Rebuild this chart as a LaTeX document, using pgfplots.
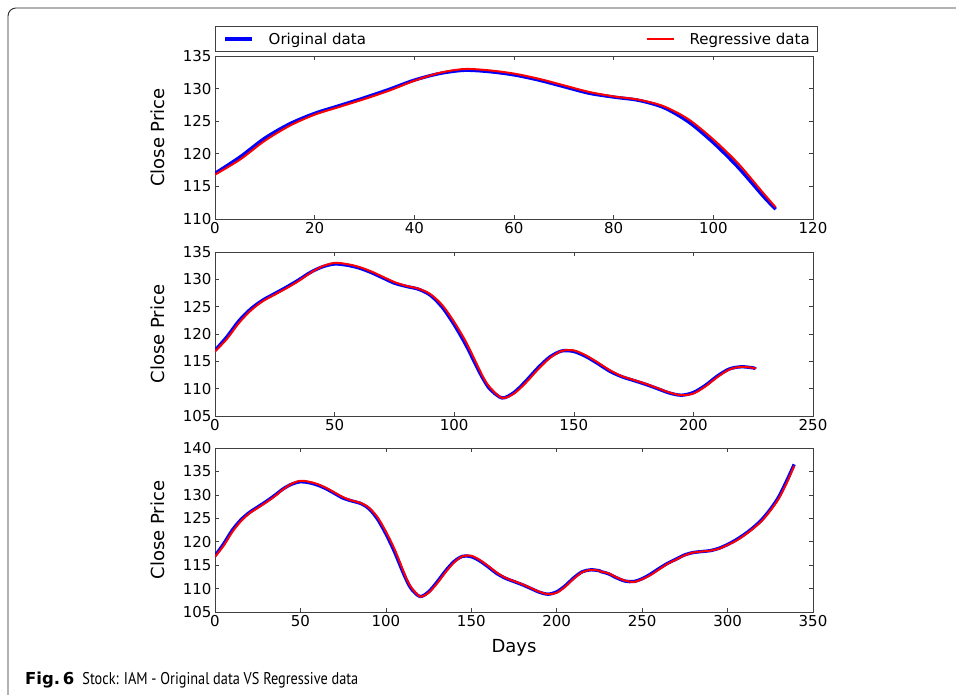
\documentclass[border=0pt]{standalone}
\usepackage{pgfplots}
\usepackage{pgfplotstable}
\usepackage{fontspec}
\pgfplotsset{compat=1.18}
\setmainfont{DejaVu Sans}
\newfontfamily\capfont[FakeStretch=0.84]{PT Sans}
\newfontfamily\figfont{DejaVu Sans}

% day, original close, regressive close
\pgfplotstableread{
d     o      r
0     117.0  116.8
5     119.5  119.1
10    122.4  122.0
15    124.6  124.3
20    126.2  126.0
25    127.4  127.2
30    128.6  128.4
35    129.9  129.7
40    131.3  131.2
45    132.3  132.4
50    132.8  133.0
55    132.6  132.8
60    132.1  132.3
65    131.3  131.5
70    130.3  130.5
75    129.3  129.5
80    128.7  128.8
85    128.2  128.3
90    127.1  127.3
95    124.9  125.3
100   121.7  122.2
105   117.9  118.5
110   113.5  114.0
112.5 111.5  111.8
115   109.9  110.2
120   108.3  108.3
125   109.3  109.1
130   111.4  111.1
135   113.8  113.5
140   115.8  115.6
145   116.9  116.9
150   116.8  117.0
155   115.9  116.1
160   114.6  114.8
165   113.2  113.4
170   112.2  112.3
175   111.5  111.6
180   110.8  110.9
185   110.0  110.1
190   109.2  109.3
195   108.8  108.8
200   109.3  109.1
205   110.6  110.4
210   112.3  112.1
215   113.6  113.5
220   114.0  114.0
225   113.8  113.8
226   113.6  113.6
230   113.2  113.3
235   112.3  112.4
240   111.6  111.7
245   111.5  111.4
250   112.1  112.0
255   113.1  112.9
260   114.3  114.1
265   115.4  115.3
270   116.3  116.2
275   117.2  117.1
280   117.7  117.7
285   117.9  117.9
290   118.1  118.1
295   118.6  118.5
300   119.4  119.3
305   120.4  120.2
310   121.6  121.4
315   123.0  122.8
320   124.7  124.4
325   126.9  126.6
330   129.6  129.2
335   133.3  132.8
339   136.5  136.2
}\stock

\pgfplotsset{
  stockaxis/.style={
    scale only axis,
    width=598pt,
    xmin=0,
    tick align=inside,
    tick pos=both,
    major tick length=4pt,
    axis line style={black!75, line width=0.8pt},
    every tick/.style={black!75, line width=0.6pt},
    ticklabel style={font=\fontsize{15}{18}\selectfont},
    /pgf/number format/assume math mode=true,
    ylabel={Close Price},
    every axis y label/.style={at={(axis description cs:-0.0836,0.5)},
      rotate=90, anchor=south, inner sep=0pt, font=\fontsize{18}{21}\selectfont},
  },
  orig/.style={blue, line width=3.3pt, smooth},
  regr/.style={red, line width=2pt, smooth},
}

\begin{document}
\begin{tikzpicture}
\useasboundingbox (0pt,0pt) rectangle (956pt,695pt);
\draw[black!85, line width=0.9pt, rounded corners=8pt]
  (8pt,-5pt) -- (8pt,687pt) -- (960pt,687pt);

\begin{axis}[stockaxis,
    at={(215pt,476pt)}, anchor=south west, height=163pt,
    xmax=120, ymin=110, ymax=135,
    xtick={0,20,...,120}, ytick={110,115,...,135},
    legend columns=2,
    legend style={at={(axis description cs:0,1)}, anchor=south west,
      yshift=4pt, draw=black!75, line width=0.8pt,
      inner xsep=8pt, inner ysep=6pt,
      font=\fontsize{15}{18}\selectfont,
      nodes={inner xsep=0pt, inner ysep=0pt},
      /tikz/column sep=0pt},
    legend image code/.code={\draw[#1] (0pt,0pt) -- (27pt,0pt);},
  ]
  \addplot[orig, restrict x to domain=0:112.5] table[x=d, y=o] {\stock};
  \addlegendentry{\makebox[392pt][l]{\hspace{15pt}Original data}}
  \addplot[regr, restrict x to domain=0:112.5] table[x=d, y=r] {\stock};
  \addlegendentry{\hspace{15pt}Regressive data}
\end{axis}

\begin{axis}[stockaxis,
    at={(215pt,279pt)}, anchor=south west, height=164pt,
    xmax=250, ymin=105, ymax=135,
    xtick={0,50,...,250}, ytick={105,110,...,135},
  ]
  \addplot[orig, restrict x to domain=0:226] table[x=d, y=o] {\stock};
  \addplot[regr, restrict x to domain=0:226] table[x=d, y=r] {\stock};
\end{axis}

\begin{axis}[stockaxis,
    at={(215pt,83pt)}, anchor=south west, height=164pt,
    xmax=350, ymin=105, ymax=140,
    xtick={0,50,...,350}, ytick={105,110,...,140},
    xlabel={Days},
    every axis x label/.style={at={(axis description cs:0.5,0)},
      anchor=base, yshift=-41pt, font=\fontsize{18}{21}\selectfont},
  ]
  \addplot[orig] table[x=d, y=o] {\stock};
  \addplot[regr] table[x=d, y=r] {\stock};
\end{axis}

\node[anchor=base west, inner sep=0pt] at (25pt,10pt)
  {{\figfont\bfseries\fontsize{16.5}{20}\selectfont Fig.\,6}\hspace{8pt}%
   {\capfont\fontsize{17}{20}\selectfont Stock: IAM - Original data VS Regressive data}};
\end{tikzpicture}
\end{document}
